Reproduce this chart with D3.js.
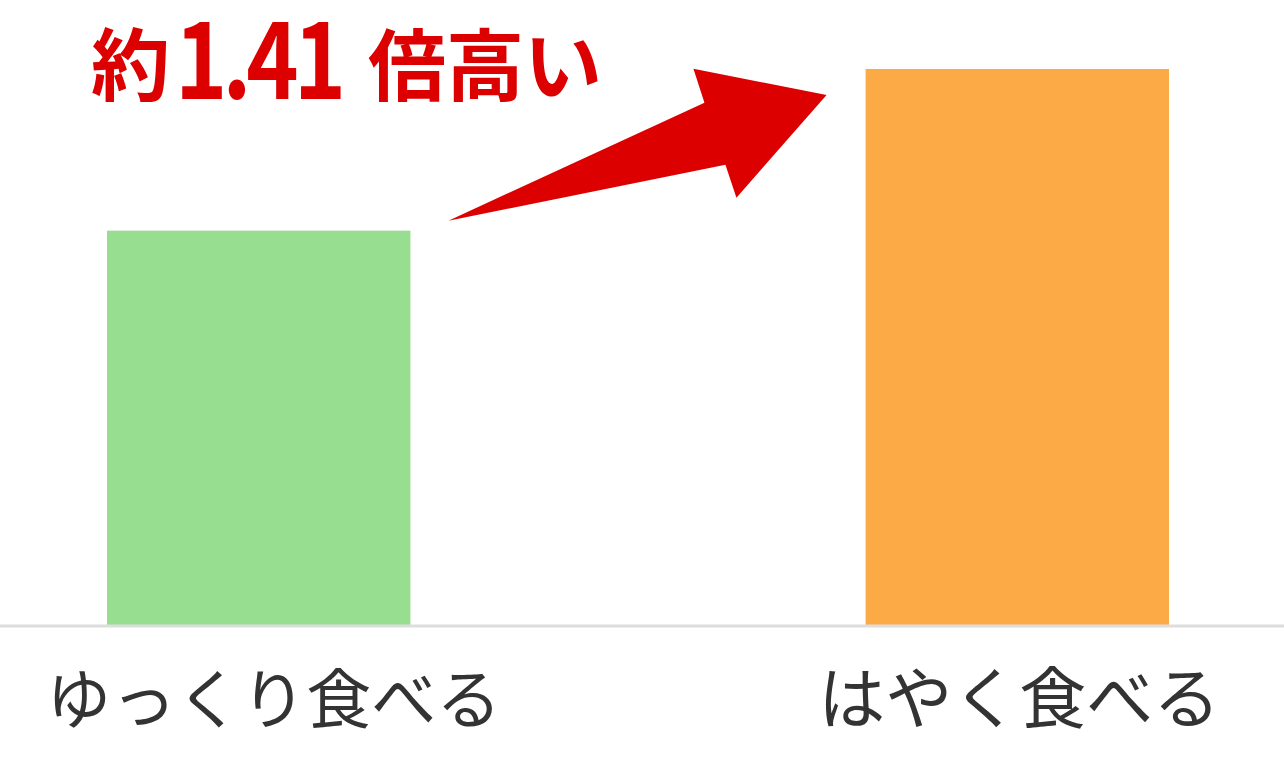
<!DOCTYPE html>
<html><head><meta charset="utf-8">
<script src="https://cdn.jsdelivr.net/npm/d3@7"></script>
<style>
html,body{margin:0;padding:0;background:#fff;}
svg{display:block;}
text{font-family:"Noto Sans CJK JP","Noto Sans",sans-serif;}
</style></head>
<body>
<svg id="chart" width="1284" height="765"></svg>
<script>
const categories = ["ゆっくり食べる", "はやく食べる"];
const values = [100, 141];
const barColors = ["#97de91", "#fcaa45"];
const annotationParts = ["約", "1.41", "倍高い"];

const W = 1284, H = 765;
const svg = d3.select("#chart");
const baseY = 625, topY = 69;

const x = d3.scaleBand().domain(categories).range([107, 1169]).paddingInner(0.6).paddingOuter(0);
const y = d3.scaleLinear().domain([0, d3.max(values)]).range([baseY, topY]);

svg.selectAll("rect.bar").data(categories).join("rect")
  .attr("class", "bar")
  .attr("x", d => x(d))
  .attr("width", x.bandwidth())
  .attr("y", (d, i) => y(values[i]))
  .attr("height", (d, i) => y(0) - y(values[i]))
  .attr("fill", (d, i) => barColors[i]);

// baseline
svg.append("line").attr("x1", 0).attr("x2", W).attr("y1", y(0) + 1).attr("y2", y(0) + 1)
  .attr("stroke", "#dddddd").attr("stroke-width", 3);

// category labels
svg.selectAll("text.cat").data(categories).join("text")
  .attr("class", "cat")
  .attr("x", d => x(d) + x.bandwidth() / 2 + (d === categories[0] ? 15 : 2))
  .attr("y", 723)
  .attr("text-anchor", "middle")
  .attr("font-size", d => d === categories[0] ? 65 : 67)
  .attr("fill", "#333333")
  .text(d => d);

// arrow from bar1 top to bar2 top
const b1 = { x: x(categories[0]) + x.bandwidth(), y: y(values[0]) };
const b2 = { x: x(categories[1]), y: y(values[1]) };
const arrowPts = [
  [b1.x + 38, b1.y - 10],
  [b1.x + 294, b1.y - 128],
  [b1.x + 283, b1.y - 162],
  [b2.x - 39, b2.y + 26],
  [b1.x + 326, b1.y - 33],
  [b1.x + 315, b1.y - 66]
];
svg.append("path")
  .attr("d", d3.line()(arrowPts) + "Z")
  .attr("fill", "#dc0000");

// annotation text
const ann = svg.append("g").attr("fill", "#dc0000").attr("font-weight", 700);
ann.append("text").attr("x", 91).attr("y", 95).attr("font-size", 79).text(annotationParts[0]);
ann.append("text").attr("transform", "translate(175,99) scale(0.83,1)")
  .attr("font-size", 107).attr("letter-spacing", -6).text(annotationParts[1]);
ann.append("text").attr("x", 368).attr("y", 95).attr("font-size", 78).text(annotationParts[2]);
</script>
</body></html>
